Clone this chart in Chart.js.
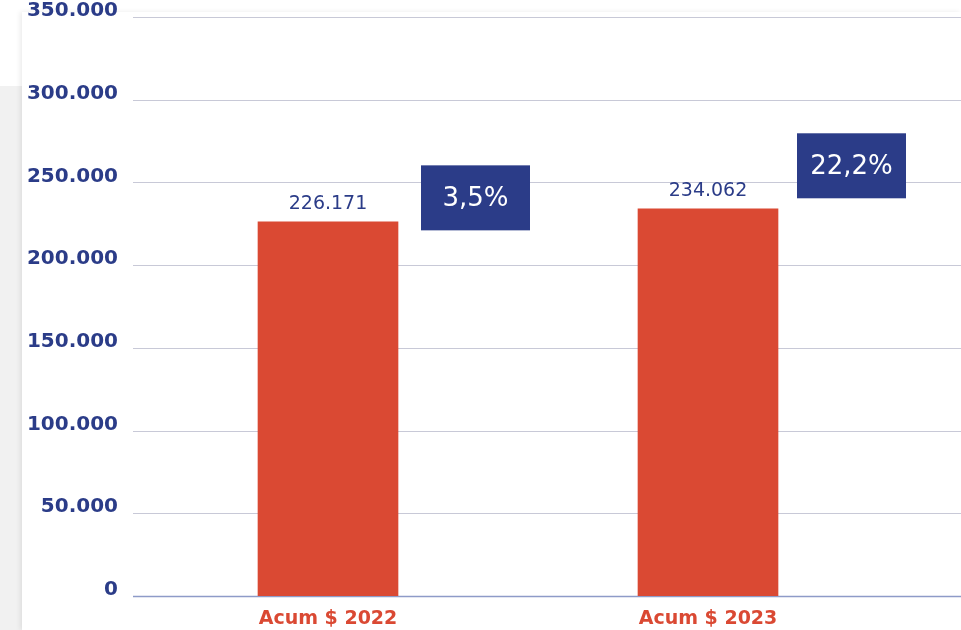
<!DOCTYPE html>
<html lang="es">
<head>
<meta charset="utf-8">
<title>Acumulado 2022 - 2023</title>
<script src="https://cdn.jsdelivr.net/npm/chart.js@4.4.0/dist/chart.umd.min.js"></script>
<style>
  html, body { margin: 0; padding: 0; background: #fff; }
  body { width: 961px; height: 630px; position: relative; overflow: hidden; }
  .lateral { position: absolute; left: 0; top: 86px; width: 22px; bottom: 0; background: #f1f1f1; }
  .tarjeta { position: absolute; left: 22px; top: 12px; right: 0; bottom: 0; background: #fff; box-shadow: -2px 0 5px rgba(0, 0, 0, 0.08); }
  .grafico { position: absolute; left: 0; top: 0; width: 961px; height: 630px; }
</style>
</head>
<body>
<div class="lateral"></div>
<div class="tarjeta"></div>
<div class="grafico"><canvas id="acumChart" width="961" height="630"></canvas></div>
<script>
// Datos
const categorias = ['Acum $ 2022', 'Acum $ 2023'];
const acumulado = [226171, 234062];
const variacion = ['3,5%', '22,2%'];
const ticksY = [0, 50000, 100000, 150000, 200000, 250000, 300000, 350000];

const AZUL = '#2b3c88';
const ROJO = '#da4933';
const FUENTE = '"DejaVu Sans", sans-serif';

// Formato con punto de miles: 226171 -> 226.171
function formato(valor) {
    return valor.toLocaleString('de-DE');
}

// Líneas guía que llegan hasta el borde derecho
const lineasGuia = {
    id: 'lineasGuia',
    beforeDatasetsDraw(chart) {
        const { ctx, scales: { y } } = chart;
        ctx.save();
        y.ticks.forEach(t => {
            const py = Math.round(y.getPixelForValue(t.value)) + 0.5;
            ctx.strokeStyle = t.value === 0 ? '#8e9bc8' : '#c8c9d7';
            ctx.lineWidth = t.value === 0 ? 1.5 : 1.2;
            ctx.beginPath();
            ctx.moveTo(133, py);
            ctx.lineTo(chart.width, py);
            ctx.stroke();
        });
        ctx.restore();
    }
};

// Valor sobre cada barra y recuadro azul con la variación
const etiquetas = {
    id: 'etiquetas',
    afterDatasetsDraw(chart, args, opts) {
        const { ctx } = chart;
        const meta = chart.getDatasetMeta(0);
        ctx.save();
        ctx.textAlign = 'center';
        ctx.textBaseline = 'middle';
        meta.data.forEach((bar, i) => {
            ctx.font = '19px ' + FUENTE;
            ctx.fillStyle = AZUL;
            ctx.fillText(formato(acumulado[i]), bar.x, bar.y - 18);

            const izq = bar.x + bar.width / 2 + opts.separacion[i];
            const cy = bar.y + opts.desplazamiento[i];
            ctx.fillStyle = AZUL;
            ctx.fillRect(izq, cy - opts.alto / 2, opts.ancho, opts.alto);
            ctx.fillStyle = '#fff';
            ctx.font = '26px ' + FUENTE;
            ctx.fillText(variacion[i], izq + opts.ancho / 2, cy + 1);
        });
        ctx.restore();
    }
};

Chart.defaults.font.family = FUENTE;

const ctx = document.getElementById('acumChart').getContext('2d');
const chart = new Chart(ctx, {
    type: 'bar',
    data: {
        labels: categorias,
        datasets: [{
            data: acumulado,
            backgroundColor: ROJO,
            barThickness: 140
        }]
    },
    options: {
        responsive: false,
        animation: false,
        layout: {
            padding: { top: 17, right: 63, left: 0, bottom: 0 }
        },
        plugins: {
            legend: { display: false },
            tooltip: { enabled: false },
            etiquetas: {
                separacion: [23, 19],
                desplazamiento: [-24, -43],
                ancho: 109,
                alto: 65
            }
        },
        scales: {
            x: {
                grid: { display: false },
                border: { display: false },
                ticks: {
                    color: ROJO,
                    font: { size: 19, weight: 'bold' },
                    padding: 4,
                    maxRotation: 0
                },
                afterFit: scale => { scale.height = 34; }
            },
            y: {
                min: 0,
                max: 350000,
                grid: { display: false },
                border: { display: false },
                afterBuildTicks: scale => {
                    scale.ticks = ticksY.map(v => ({ value: v }));
                },
                ticks: {
                    color: AZUL,
                    font: { size: 20, weight: 'bold' },
                    padding: 12,
                    labelOffset: -6,
                    callback: v => formato(v)
                },
                afterFit: scale => {
                    scale.width = 138;
                    scale.paddingTop = 0;
                    scale.paddingBottom = 0;
                }
            }
        }
    },
    plugins: [lineasGuia, etiquetas]
});
</script>
</body>
</html>
